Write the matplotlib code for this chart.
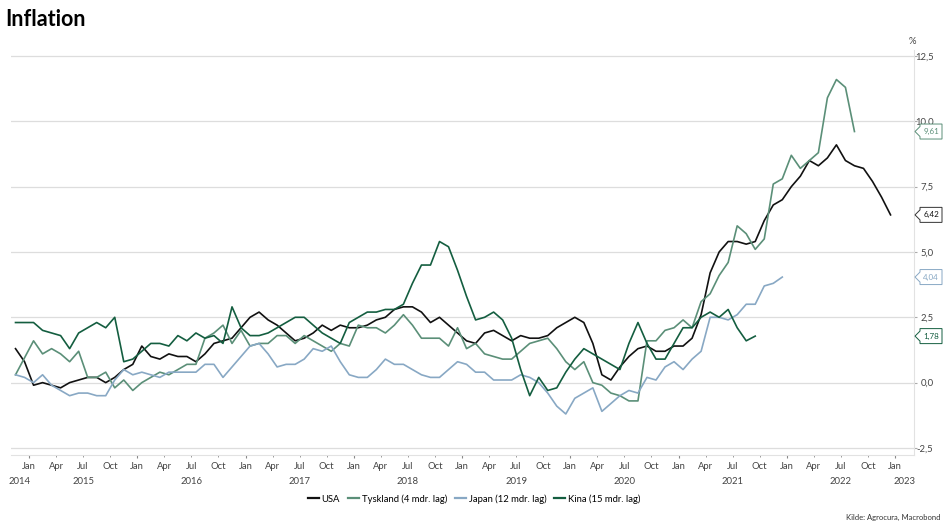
import numpy as np
import matplotlib.pyplot as plt
from matplotlib.patches import Polygon
from matplotlib.lines import Line2D

plt.rcParams['font.family'] = ['Lato', 'DejaVu Sans']

# Monatsdaten, % y/y, første punkt = nov 2014
start_year, start_month = 2014, 11

usa = [1.3, 0.8,
       -0.1, 0.0, -0.1, -0.2, 0.0, 0.1, 0.2, 0.2, 0.0, 0.2, 0.5, 0.7,
       1.4, 1.0, 0.9, 1.1, 1.0, 1.0, 0.8, 1.1, 1.5, 1.6, 1.7, 2.1,
       2.5, 2.7, 2.4, 2.2, 1.9, 1.6, 1.7, 1.9, 2.2, 2.0, 2.2, 2.1,
       2.1, 2.2, 2.4, 2.5, 2.8, 2.9, 2.9, 2.7, 2.3, 2.5, 2.2, 1.9,
       1.6, 1.5, 1.9, 2.0, 1.8, 1.6, 1.8, 1.7, 1.7, 1.8, 2.1, 2.3,
       2.5, 2.3, 1.5, 0.3, 0.1, 0.6, 1.0, 1.3, 1.4, 1.2, 1.2, 1.4,
       1.4, 1.7, 2.6, 4.2, 5.0, 5.4, 5.4, 5.3, 5.4, 6.2, 6.8, 7.0,
       7.5, 7.9, 8.5, 8.3, 8.6, 9.1, 8.5, 8.3, 8.2, 7.7, 7.1, 6.42]

tyskland = [0.3, 0.95,
            1.6, 1.1, 1.3, 1.1, 0.8, 1.2, 0.2, 0.2, 0.4, -0.2, 0.1, -0.3,
            0.0, 0.2, 0.4, 0.3, 0.5, 0.7, 0.7, 1.7, 1.9, 2.2, 1.5, 2.0,
            1.4, 1.5, 1.5, 1.8, 1.8, 1.5, 1.8, 1.6, 1.4, 1.2, 1.5, 1.4,
            2.2, 2.1, 2.1, 1.9, 2.2, 2.6, 2.2, 1.7, 1.7, 1.7, 1.4, 2.1,
            1.3, 1.5, 1.1, 1.0, 0.9, 0.9, 1.2, 1.5, 1.6, 1.7, 1.3, 0.8,
            0.5, 0.8, 0.0, -0.1, -0.4, -0.5, -0.7, -0.7, 1.6, 1.6, 2.0, 2.1,
            2.4, 2.1, 3.1, 3.4, 4.1, 4.6, 6.0, 5.7, 5.1, 5.5, 7.6, 7.8,
            8.7, 8.2, 8.5, 8.8, 10.9, 11.6, 11.3, 9.61]

japan = [0.3, 0.2,
         0.0, 0.3, -0.1, -0.3, -0.5, -0.4, -0.4, -0.5, -0.5, 0.1, 0.5, 0.3,
         0.4, 0.3, 0.2, 0.4, 0.4, 0.4, 0.4, 0.7, 0.7, 0.2, 0.6, 1.0,
         1.4, 1.5, 1.1, 0.6, 0.7, 0.7, 0.9, 1.3, 1.2, 1.4, 0.8, 0.3,
         0.2, 0.2, 0.5, 0.9, 0.7, 0.7, 0.5, 0.3, 0.2, 0.2, 0.5, 0.8,
         0.7, 0.4, 0.4, 0.1, 0.1, 0.1, 0.3, 0.2, 0.0, -0.4, -0.9, -1.2,
         -0.6, -0.4, -0.2, -1.1, -0.8, -0.5, -0.3, -0.4, 0.2, 0.1, 0.6, 0.8,
         0.5, 0.9, 1.2, 2.5, 2.5, 2.4, 2.6, 3.0, 3.0, 3.7, 3.8, 4.04]

kina = [2.3, 2.3,
        2.3, 2.0, 1.9, 1.8, 1.3, 1.9, 2.1, 2.3, 2.1, 2.5, 0.8, 0.9,
        1.2, 1.5, 1.5, 1.4, 1.8, 1.6, 1.9, 1.7, 1.8, 1.5, 2.9, 2.1,
        1.8, 1.8, 1.9, 2.1, 2.3, 2.5, 2.5, 2.2, 1.9, 1.7, 1.5, 2.3,
        2.5, 2.7, 2.7, 2.8, 2.8, 3.0, 3.8, 4.5, 4.5, 5.4, 5.2, 4.3,
        3.3, 2.4, 2.5, 2.7, 2.4, 1.7, 0.5, -0.5, 0.2, -0.3, -0.2, 0.4,
        0.9, 1.3, 1.1, 0.9, 0.7, 0.5, 1.5, 2.3, 1.5, 0.9, 0.9, 1.5,
        2.1, 2.1, 2.5, 2.7, 2.5, 2.8, 2.1, 1.6, 1.78]

series_names = ['USA', 'Tyskland (4 mdr. lag)', 'Japan (12 mdr. lag)', 'Kina (15 mdr. lag)']
colors = ['#111111', '#5b8f78', '#88a8c4', '#145e40']
month_labels = ['Jan', 'Apr', 'Jul', 'Oct']
year_labels = ['2014', '2015', '2016', '2017', '2018', '2019', '2020', '2021', '2022', '2023']
y_ticks = [-2.5, 0.0, 2.5, 5.0, 7.5, 10.0, 12.5]


def months(n):
    idx = np.arange(n) + (start_month - 1)
    return start_year + (idx + 0.5) / 12


def fmt(v, d):
    return f'{v:.{d}f}'.replace('.', ',')


W, H = 948, 529
fig = plt.figure(figsize=(W / 100, H / 100), dpi=100)
ax_l, ax_r, ax_t, ax_b = 11, 914, 50, 455
ax = fig.add_axes([ax_l / W, 1 - ax_b / H, (ax_r - ax_l) / W, (ax_b - ax_t) / H])

ymin, ymax = -2.77, 12.73
ax.set_xlim(2014 + 10 / 12, 2023 + 2.1 / 12)
ax.set_ylim(ymin, ymax)

all_series = [usa, tyskland, japan, kina]
for vals, name, c in zip(all_series, series_names, colors):
    ax.plot(months(len(vals)), vals, color=c, lw=1.2, label=name, zorder=3)

# grid / spines
ax.grid(axis='y', color='#dddddd', lw=0.9, zorder=0)
for s in ['top', 'left']:
    ax.spines[s].set_visible(False)
ax.spines['right'].set_color('#e2e2e2')
ax.spines['bottom'].set_color('#e2e2e2')

# y axis on the right
ax.yaxis.tick_right()
ax.set_yticks(y_ticks)
ax.set_yticklabels([fmt(v, 1) for v in y_ticks])
ax.tick_params(axis='y', length=2.5, color='#aaaaaa', labelsize=6.8,
               labelcolor='#444444', pad=11.5)
for lab in ax.get_yticklabels():
    lab.set_ha('right')

# x axis: quarterly labels
years = range(2015, 2024)
jan_pos = [y + 0.0 for y in years]
q_pos = [y + (m - 1) / 12 for y in range(2015, 2023) for m in (4, 7, 10)]
ax.set_xticks(jan_pos)
ax.set_xticklabels([month_labels[0]] * len(jan_pos))
ax.set_xticks(q_pos, minor=True)
ax.set_xticklabels([month_labels[(i % 3) + 1] for i in range(len(q_pos))], minor=True)
ax.tick_params(axis='x', which='major', length=2.5, color='#888888', labelsize=6.8,
               labelcolor='#444444', pad=2.2)
ax.tick_params(axis='x', which='minor', length=1.5, color='#888888', labelsize=6.8,
               labelcolor='#444444', pad=3.2)

year_pos = [2014 + 11 / 12] + [y + 0.5 for y in range(2015, 2023)] + [2023.09]
for x, lab in zip(year_pos, year_labels):
    ax.text(x, -26 / (ax_b - ax_t), lab, transform=ax.get_xaxis_transform(),
            ha='center', va='center', fontsize=6.8, color='#444444')

# value tags at the right edge
def px(x, y):
    return (x / W, 1 - y / H)

tag_vals = [usa[-1], tyskland[-1], japan[-1], kina[-1]]
border = ['#333333', colors[1], colors[2], colors[3]]
for v, bc, tc in zip(tag_vals, border, colors):
    yp = ax_b - (v - ymin) / (ymax - ymin) * (ax_b - ax_t)
    pts = [(915, yp), (920, yp - 5), (920, yp - 7.5), (942, yp - 7.5),
           (942, yp + 7.5), (920, yp + 7.5), (920, yp + 5)]
    poly = Polygon([px(*p) for p in pts], closed=True, transform=fig.transFigure,
                   facecolor='white', edgecolor=bc, lw=0.7)
    fig.add_artist(poly)
    fig.text(*px(931, yp), fmt(v, 2), ha='center', va='center', fontsize=5.8, color=tc)

fig.text(*px(912, 42), '%', ha='center', va='center', fontsize=6.8, color='#444444')
fig.text(*px(5, 20), 'Inflation', ha='left', va='center', fontsize=15.5, fontweight='bold')

handles = [Line2D([], [], color=c, lw=1.6) for c in colors]
fig.legend(handles, series_names, loc='center', bbox_to_anchor=px(474, 499), ncol=4,
           frameon=False, fontsize=6.8, handlelength=1.2, handletextpad=0.3,
           columnspacing=0.8)

fig.text(*px(940, 517), 'Kilde: Agrocura, Macrobond', ha='right', va='center',
         fontsize=5.5, color='#333333')

fig.savefig('out.png', dpi=100)
